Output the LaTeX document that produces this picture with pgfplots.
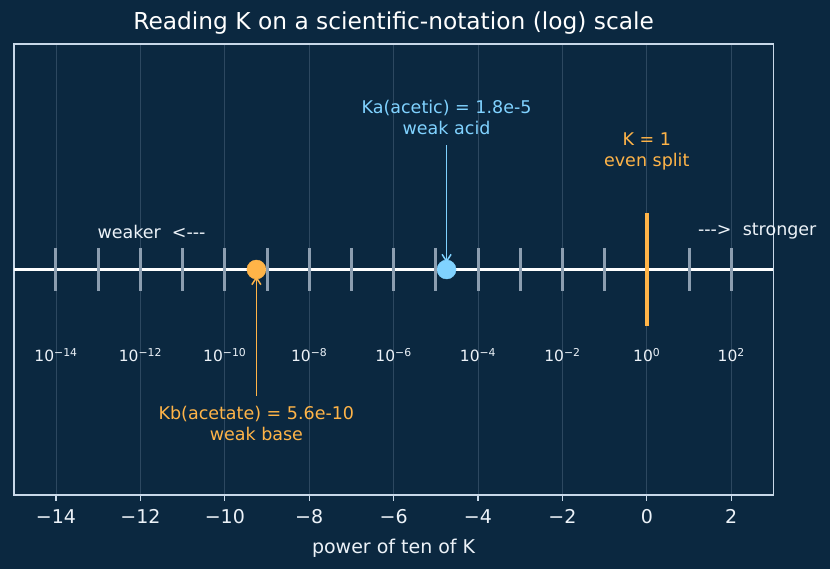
\documentclass[border=0pt]{standalone}
\usepackage{pgfplots}
\pgfplotsset{compat=1.18}
\usepackage{fontspec}
\setmainfont{DejaVu Sans}
\usetikzlibrary{arrows.meta}
\definecolor{bg}{RGB}{11,40,64}
\definecolor{borderc}{RGB}{200,216,232}
\definecolor{gridc}{RGB}{45,72,96}
\definecolor{tickc}{RGB}{140,158,176}
\definecolor{textc}{RGB}{236,242,248}
\definecolor{orangeK}{RGB}{255,180,72}
\definecolor{blueK}{RGB}{128,210,255}
\newcommand\pl[2]{\node[text=textc, font=\fontsize{15.5}{18}\selectfont] at (axis cs:#1,-0.38) {10\textsuperscript{#2}};}
\begin{document}
\begin{tikzpicture}[x=1pt,y=1pt]
\path[use as bounding box, fill=bg] (0,0) rectangle (830,569);
\begin{axis}[
  at={(13.8pt,74pt)}, anchor=south west,
  width=759.6pt, height=451pt, scale only axis,
  xmin=-15, xmax=3, ymin=-1, ymax=1,
  axis line style={color=borderc, line width=1.5pt},
  ytick=\empty,
  xtick={-14,-12,...,2},
  xticklabels={−14,−12,−10,−8,−6,−4,−2,0,2},
  xtick pos=bottom, tick align=outside,
  major tick length=6pt,
  tick style={color=borderc, line width=1.3pt},
  xmajorgrids, grid style={color=gridc, line width=0.8pt},
  ticklabel style={font=\fontsize{19}{22}\selectfont, text=textc},
  xticklabel style={yshift=-5pt},
  xlabel={power of ten of K},
  xlabel style={font=\fontsize{19}{22}\selectfont, text=textc, yshift=-8pt},
  clip=false,
]
\addplot[only marks, mark=|, mark size=21.5pt, mark options={line width=3pt, color=tickc}]
  coordinates {(-14,0)(-13,0)(-12,0)(-11,0)(-10,0)(-9,0)(-8,0)(-7,0)(-6,0)(-5,0)(-4,0)(-3,0)(-2,0)(-1,0)(1,0)(2,0)};
\addplot[white, line width=2.5pt] coordinates {(-15,0)(3,0)};
\addplot[orangeK, line width=4pt] coordinates {(0,-0.25)(0,0.25)};
\addplot[only marks, mark=*, mark size=9.5pt, color=orangeK, mark options={draw=orangeK, fill=orangeK}] coordinates {(-9.2518,0)};
\addplot[only marks, mark=*, mark size=9.5pt, color=blueK, mark options={draw=blueK, fill=blueK}] coordinates {(-4.7447,0)};
\addplot[blueK, line width=1.5pt, -{Straight Barb[length=7pt,width=9pt]}] coordinates {(-4.7447,0.55)(-4.7447,0.03)};
\addplot[orangeK, line width=1.5pt, -{Straight Barb[length=7pt,width=9pt]}] coordinates {(-9.2518,-0.56)(-9.2518,-0.03)};
\node[text=blueK, align=center, font=\fontsize{17.5}{21}\selectfont] at (axis cs:-4.7447,0.672) {Ka(acetic) = 1.8e-5\\weak acid};
\node[text=orangeK, align=center, font=\fontsize{17.5}{21}\selectfont] at (axis cs:-9.2518,-0.685) {Kb(acetate) = 5.6e-10\\weak base};
\node[text=orangeK, align=center, font=\fontsize{17.5}{21}\selectfont] at (axis cs:0,0.525) {K = 1\\even split};
\node[text=textc, anchor=west, font=\fontsize{17.5}{21}\selectfont] at (axis cs:-13.1,0.168) {weaker\ \ <‐‐‐};
\node[text=textc, anchor=west, font=\fontsize{17.5}{21}\selectfont] at (axis cs:1.13,0.168) {‐‐‐>\ \ stronger};
\pl{-14}{−14}\pl{-12}{−12}\pl{-10}{−10}\pl{-8}{−8}\pl{-6}{−6}\pl{-4}{−4}\pl{-2}{−2}\pl{0}{0}\pl{2}{2}
\end{axis}
\node[text=white, font=\fontsize{23.3}{28}\selectfont] at (393.6,546) {Reading K on a scientific-notation (log) scale};
\end{tikzpicture}
\end{document}
